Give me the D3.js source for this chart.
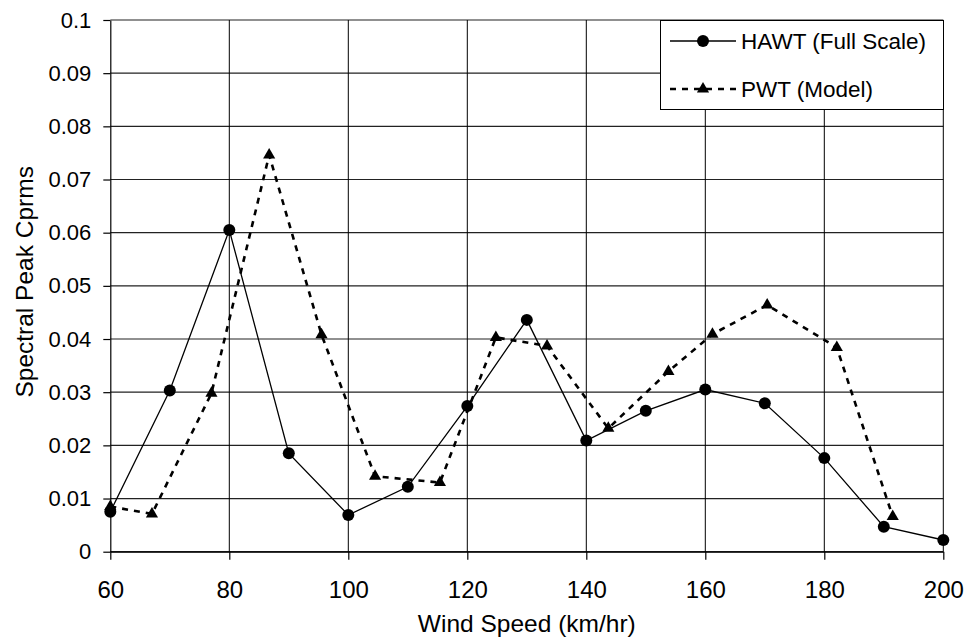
<!DOCTYPE html>
<html>
<head>
<meta charset="utf-8">
<script src="https://cdn.jsdelivr.net/npm/d3@7"></script>
<style>
  body { margin: 0; background: #fff; }
  text { font-family: "Liberation Sans", Arial, sans-serif; fill: #000; }
</style>
</head>
<body>
<div id="chart-area"></div>
<script>
const WIDTH = 969
const HEIGHT = 639
const PLOT = { LEFT: 110.3, RIGHT: 943.3, TOP: 20, BOTTOM: 551.7 }

// data
const hawtSpeed = [60, 70, 80, 90, 100, 110, 120, 130, 140, 150, 160, 170, 180, 190, 200]
const hawtCprms = [0.0075, 0.0303, 0.0605, 0.0185, 0.0069, 0.0122, 0.0274, 0.0436, 0.0209, 0.0265, 0.0305, 0.0279, 0.0176, 0.0047, 0.0022]
const pwtSpeed = [60, 67.0, 77.0, 86.7, 95.5, 104.5, 115.4, 124.8, 133.4, 143.7, 153.8, 161.2, 170.4, 182.1, 191.5]
const pwtCprms = [0.0085, 0.0071, 0.0298, 0.0746, 0.0408, 0.0142, 0.0130, 0.0403, 0.0387, 0.0232, 0.0339, 0.0409, 0.0464, 0.0384, 0.0066]

const xTicks = [60, 80, 100, 120, 140, 160, 180, 200]
const xTickLabels = ["60", "80", "100", "120", "140", "160", "180", "200"]
const yTicks = [0, 0.01, 0.02, 0.03, 0.04, 0.05, 0.06, 0.07, 0.08, 0.09, 0.1]
const yTickLabels = ["0", "0.01", "0.02", "0.03", "0.04", "0.05", "0.06", "0.07", "0.08", "0.09", "0.1"]

const seriesNames = ["HAWT (Full Scale)", "PWT (Model)"]

const hawt = hawtSpeed.map((s, i) => ({ x: s, y: hawtCprms[i] }))
const pwt = pwtSpeed.map((s, i) => ({ x: s, y: pwtCprms[i] }))

const svg = d3.select("#chart-area").append("svg")
  .attr("width", WIDTH)
  .attr("height", HEIGHT)

const x = d3.scaleLinear()
  .domain([60, 200])
  .range([PLOT.LEFT, PLOT.RIGHT])

const y = d3.scaleLinear()
  .domain([0, 0.1])
  .range([PLOT.BOTTOM, PLOT.TOP])

// grid
svg.append("g").selectAll("line.h")
  .data(yTicks)
  .enter().append("line")
    .attr("x1", PLOT.LEFT)
    .attr("x2", PLOT.RIGHT)
    .attr("y1", d => y(d))
    .attr("y2", d => y(d))
    .attr("stroke", "#222")
    .attr("stroke-width", 1.2)

svg.append("g").selectAll("line.v")
  .data(xTicks.slice(1))
  .enter().append("line")
    .attr("x1", d => x(d))
    .attr("x2", d => x(d))
    .attr("y1", PLOT.TOP)
    .attr("y2", PLOT.BOTTOM)
    .attr("stroke", "#000")
    .attr("stroke-width", 1)

// axes
const xAxisCall = d3.axisBottom(x)
  .tickValues(xTicks)
  .tickFormat((d, i) => xTickLabels[i])
  .tickSizeInner(8)
  .tickSizeOuter(0)
  .tickPadding(21)

const xAxisGroup = svg.append("g")
  .attr("transform", `translate(0, ${PLOT.BOTTOM})`)
  .call(xAxisCall)
xAxisGroup.selectAll("text")
  .style("font-size", "24px")
  .style("font-family", "Liberation Sans, Arial, sans-serif")

const yAxisCall = d3.axisLeft(y)
  .tickValues(yTicks)
  .tickFormat((d, i) => yTickLabels[i])
  .tickSizeInner(7)
  .tickSizeOuter(0)
  .tickPadding(12)

const yAxisGroup = svg.append("g")
  .attr("transform", `translate(${PLOT.LEFT}, 0)`)
  .call(yAxisCall)
yAxisGroup.selectAll("text")
  .style("font-size", "22px")
  .style("font-family", "Liberation Sans, Arial, sans-serif")

svg.selectAll(".domain, .tick line").attr("stroke", "#000").attr("stroke-width", 1.2)

// axis labels
svg.append("text")
  .attr("x", (PLOT.LEFT + PLOT.RIGHT) / 2)
  .attr("y", 632)
  .attr("text-anchor", "middle")
  .style("font-size", "24.5px")
  .text("Wind Speed (km/hr)")

svg.append("text")
  .attr("transform", `translate(33, ${(PLOT.TOP + PLOT.BOTTOM) / 2 - 4}) rotate(-90)`)
  .attr("text-anchor", "middle")
  .style("font-size", "24.5px")
  .text("Spectral Peak Cprms")

// lines
const line = d3.line()
  .x(d => x(d.x))
  .y(d => y(d.y))

svg.append("path")
  .datum(pwt)
  .attr("fill", "none")
  .attr("stroke", "#000")
  .attr("stroke-width", 2.6)
  .attr("stroke-dasharray", "6,6")
  .attr("d", line)

svg.append("path")
  .datum(hawt)
  .attr("fill", "none")
  .attr("stroke", "#000")
  .attr("stroke-width", 1.3)
  .attr("d", line)

const tri = d3.symbol().type(d3.symbolTriangle).size(64)

svg.append("g").selectAll("path")
  .data(pwt)
  .enter().append("path")
    .attr("d", tri)
    .attr("transform", d => `translate(${x(d.x)}, ${y(d.y)})`)
    .attr("fill", "#000")

svg.append("g").selectAll("circle")
  .data(hawt)
  .enter().append("circle")
    .attr("cx", d => x(d.x))
    .attr("cy", d => y(d.y))
    .attr("r", 6)
    .attr("fill", "#000")

// legend
const legend = svg.append("g")
legend.append("rect")
  .attr("x", 660.5)
  .attr("y", 20.5)
  .attr("width", 283)
  .attr("height", 89)
  .attr("fill", "#fff")
  .attr("stroke", "#000")
  .attr("stroke-width", 1)

const rows = [41, 89]
seriesNames.forEach((name, i) => {
  const cy = rows[i]
  legend.append("line")
    .attr("x1", 670)
    .attr("x2", 736)
    .attr("y1", cy)
    .attr("y2", cy)
    .attr("stroke", "#000")
    .attr("stroke-width", i === 0 ? 1.3 : 2.6)
    .attr("stroke-dasharray", i === 0 ? null : "6,6")
  if (i === 0) {
    legend.append("circle").attr("cx", 703).attr("cy", cy).attr("r", 6).attr("fill", "#000")
  } else {
    legend.append("path").attr("d", tri).attr("transform", `translate(703, ${cy})`).attr("fill", "#000")
  }
  legend.append("text")
    .attr("x", 741)
    .attr("y", cy + 8)
    .style("font-size", "22.5px")
    .text(name)
})
</script>
</body>
</html>
